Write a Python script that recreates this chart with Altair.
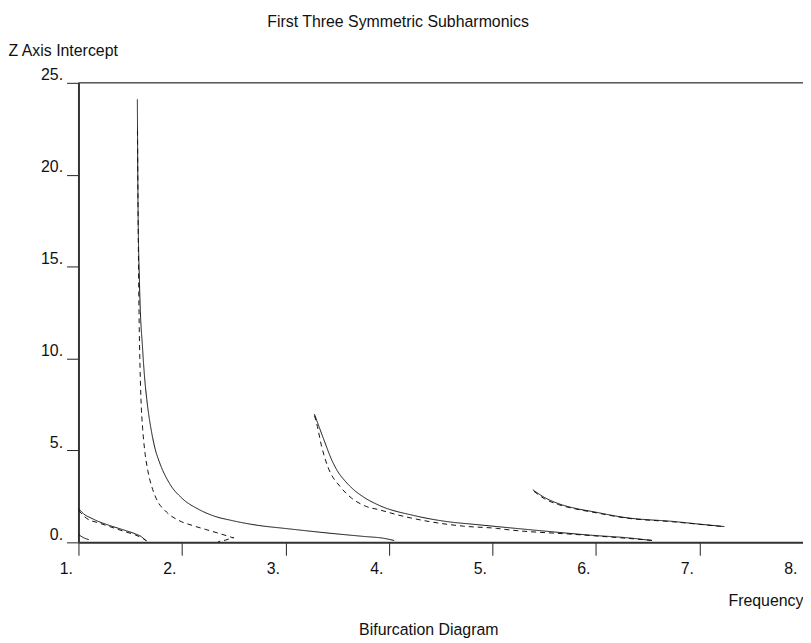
import altair as alt
import pandas as pd

# ---- data ----
c0_bold_x = [1.0, 1.05, 1.1]
c0_bold_y = [0.43, 0.25, 0.15]

c1_solid_x = [1.0, 1.05, 1.13, 1.2, 1.3, 1.45, 1.55, 1.61, 1.65]
c1_solid_y = [1.84, 1.55, 1.3, 1.12, 0.92, 0.65, 0.46, 0.3, 0.1]
c1_dash_x = [1.0, 1.08, 1.2, 1.3, 1.45, 1.55, 1.61, 1.66]
c1_dash_y = [1.75, 1.3, 1.05, 0.86, 0.58, 0.4, 0.25, 0.08]

c2_solid_x = [1.569, 1.575, 1.59, 1.62, 1.64, 1.66, 1.68, 1.70, 1.74, 1.78, 1.88,
              2.0, 2.16, 2.3, 2.48, 2.74, 2.99, 3.44, 3.76, 3.95, 4.05]
c2_solid_y = [24.1, 18.6, 14.0, 10.5, 8.9, 7.78, 6.9, 6.2, 5.1, 4.4, 3.2,
              2.4, 1.8, 1.45, 1.19, 0.92, 0.76, 0.49, 0.32, 0.22, 0.1]
c2_dash_x = [1.57, 1.575, 1.585, 1.595, 1.604, 1.62, 1.64, 1.67, 1.71, 1.75, 1.85,
             1.97, 2.1, 2.23, 2.35, 2.45, 2.5, 2.42, 2.35]
c2_dash_y = [22.4, 18.6, 12.5, 9.5, 7.78, 6.2, 5.0, 3.9, 3.0, 2.4, 1.65,
             1.19, 0.92, 0.7, 0.5, 0.33, 0.25, 0.12, 0.04]

c3_solid_x = [3.28, 3.33, 3.38, 3.44, 3.5, 3.58, 3.66, 3.75, 3.91, 4.24, 4.56,
              4.84, 5.04, 5.49, 5.97, 6.3, 6.54]
c3_solid_y = [6.97, 6.2, 5.45, 4.57, 3.9, 3.31, 2.86, 2.48, 2.0, 1.46, 1.13,
              0.97, 0.86, 0.62, 0.38, 0.25, 0.1]
c3_dash_x = [3.28, 3.30, 3.35, 3.41, 3.53, 3.64, 3.76, 3.92, 4.08, 4.39, 4.72,
             5.04, 5.16, 5.8, 6.3, 6.56]
c3_dash_y = [6.9, 6.5, 5.2, 4.1, 3.02, 2.4, 2.0, 1.75, 1.5, 1.13, 0.88,
             0.76, 0.68, 0.43, 0.22, 0.1]

c4_solid_x = [5.39, 5.5, 5.64, 5.8, 5.97, 6.28, 6.76, 7.0, 7.24]
c4_solid_y = [2.86, 2.45, 2.1, 1.85, 1.67, 1.35, 1.13, 0.99, 0.86]
c4_dash_x = [5.40, 5.5, 5.64, 5.8, 5.97, 6.28, 6.76, 7.0, 7.22]
c4_dash_y = [2.78, 2.38, 2.05, 1.82, 1.64, 1.33, 1.11, 0.98, 0.86]

x_ticks = [1, 2, 3, 4, 5, 6, 7, 8]
y_ticks = [0, 5, 10, 15, 20, 25]

curves = [
    ("c0", "bold", c0_bold_x, c0_bold_y),
    ("c1s", "solid", c1_solid_x, c1_solid_y),
    ("c1d", "dashed", c1_dash_x, c1_dash_y),
    ("c2s", "solid", c2_solid_x, c2_solid_y),
    ("c2d", "dashed", c2_dash_x, c2_dash_y),
    ("c3s", "solid", c3_solid_x, c3_solid_y),
    ("c3d", "dashed", c3_dash_x, c3_dash_y),
    ("c4s", "solid", c4_solid_x, c4_solid_y),
    ("c4d", "dashed", c4_dash_x, c4_dash_y),
]
rows = []
for cid, style, xs, ys in curves:
    for i, (xv, yv) in enumerate(zip(xs, ys)):
        rows.append({"curve": cid, "style": style, "i": i, "f": xv, "z": yv})
df = pd.DataFrame(rows)

FONT = "Liberation Sans"

xscale = alt.Scale(domain=[1, 8], nice=False, zero=False)
yscale = alt.Scale(domain=[0, 25], nice=False)

lines = alt.Chart(df).mark_line(color="#111", interpolate="monotone").encode(
    x=alt.X("f:Q", scale=xscale,
            axis=alt.Axis(values=x_ticks, labelExpr="datum.value + '.'",
                          tickSize=13, tickColor="#222", domainColor="#333",
                          domainWidth=2, grid=False, labelFont=FONT,
                          labelFontSize=16, labelAlign="right", labelOffset=-6,
                          labelPadding=5, labelColor="#111",
                          title="Frequency", titleFont=FONT, titleFontSize=16,
                          titleFontWeight="normal", titleAlign="right",
                          titleX=730, titleY=59, titleBaseline="middle",
                          titleColor="#111")),
    y=alt.Y("z:Q", scale=yscale,
            axis=alt.Axis(values=y_ticks, labelExpr="datum.value + '.'",
                          tickSize=12, tickColor="#222", domainColor="#333",
                          domainWidth=2, grid=False, labelFont=FONT,
                          labelFontSize=16, labelBaseline="bottom",
                          labelPadding=4, labelColor="#111",
                          title="Z Axis Intercept", titleFont=FONT,
                          titleFontSize=16, titleFontWeight="normal",
                          titleAngle=0, titleAlign="left", titleX=-71,
                          titleY=-33, titleBaseline="middle",
                          titleColor="#111")),
    detail="curve:N",
    order="i:Q",
    strokeDash=alt.StrokeDash("style:N", scale=alt.Scale(
        domain=["solid", "dashed", "bold"], range=[[1, 0], [5, 4], [1, 0]]),
        legend=None),
    strokeWidth=alt.StrokeWidth("style:N", scale=alt.Scale(
        domain=["solid", "dashed", "bold"], range=[1, 1, 2.5]), legend=None),
)

top_rule = alt.Chart(pd.DataFrame({"z": [25]})).mark_rule(
    color="#111", strokeWidth=1).encode(y=alt.Y("z:Q", scale=yscale))

title_top = alt.Chart(pd.DataFrame({"t": ["First Three Symmetric Subharmonics"]})).mark_text(
    font=FONT, fontSize=16, color="#111", align="center", baseline="middle"
).encode(text="t:N", x=alt.value(322), y=alt.value(-61))

title_bottom = alt.Chart(pd.DataFrame({"t": ["Bifurcation Diagram"]})).mark_text(
    font=FONT, fontSize=16, color="#111", align="center", baseline="middle"
).encode(text="t:N", x=alt.value(353), y=alt.value(551))

chart = alt.layer(top_rule, lines, title_top, title_bottom).properties(
    width=730, height=463,
    autosize=alt.AutoSizeParams(type="none"),
    padding={"left": 71, "top": 73, "right": 0, "bottom": 95},
).configure_view(stroke=None).configure(background="white")

chart.save("out.html", embed_options={"renderer": "svg", "actions": False})
